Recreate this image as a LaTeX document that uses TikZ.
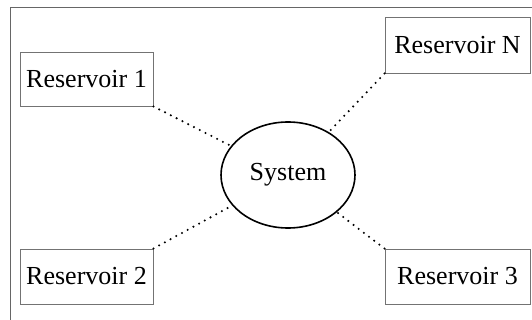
\documentclass[tikz,border=0pt]{standalone}
\usepackage{fontspec}
\setmainfont{Liberation Serif}
\usetikzlibrary{shapes.geometric}
\begin{document}
\begin{tikzpicture}[x=1pt,y=-1pt,
  resbox/.style={draw=black!55,line width=0.9pt,inner sep=0pt,minimum height=54pt,font=\fontsize{26}{31}\selectfont},
  sysell/.style={draw=black,ellipse,line width=1.6pt,minimum width=134pt,minimum height=106pt,inner sep=0pt,font=\fontsize{26}{31}\selectfont},
  link/.style={line width=2.3pt,line cap=round,dash pattern=on 0pt off 6.5pt}]
\useasboundingbox (0,0) rectangle (532,320);
\draw[black!60,line width=1pt] (10,320) -- (10,8) -- (532,8);
\node[resbox,minimum width=133pt] (r1) at (86.5,79) {Reservoir 1};
\node[resbox,minimum width=145pt,minimum height=56pt] (rn) at (457.5,45) {Reservoir N};
\node[resbox,minimum width=133pt,minimum height=55pt] (r2) at (86.5,276.5) {Reservoir 2};
\node[resbox,minimum width=145pt,minimum height=55pt] (r3) at (457.5,276.5) {Reservoir 3};
\node[sysell] (sys) at (288,175) {System};
\draw[link] (r1.south east) -- (sys);
\draw[link] (rn.south west) -- (sys);
\draw[link] (r2.north east) -- (sys);
\draw[link] (r3.north west) -- (sys);
\end{tikzpicture}
\end{document}
